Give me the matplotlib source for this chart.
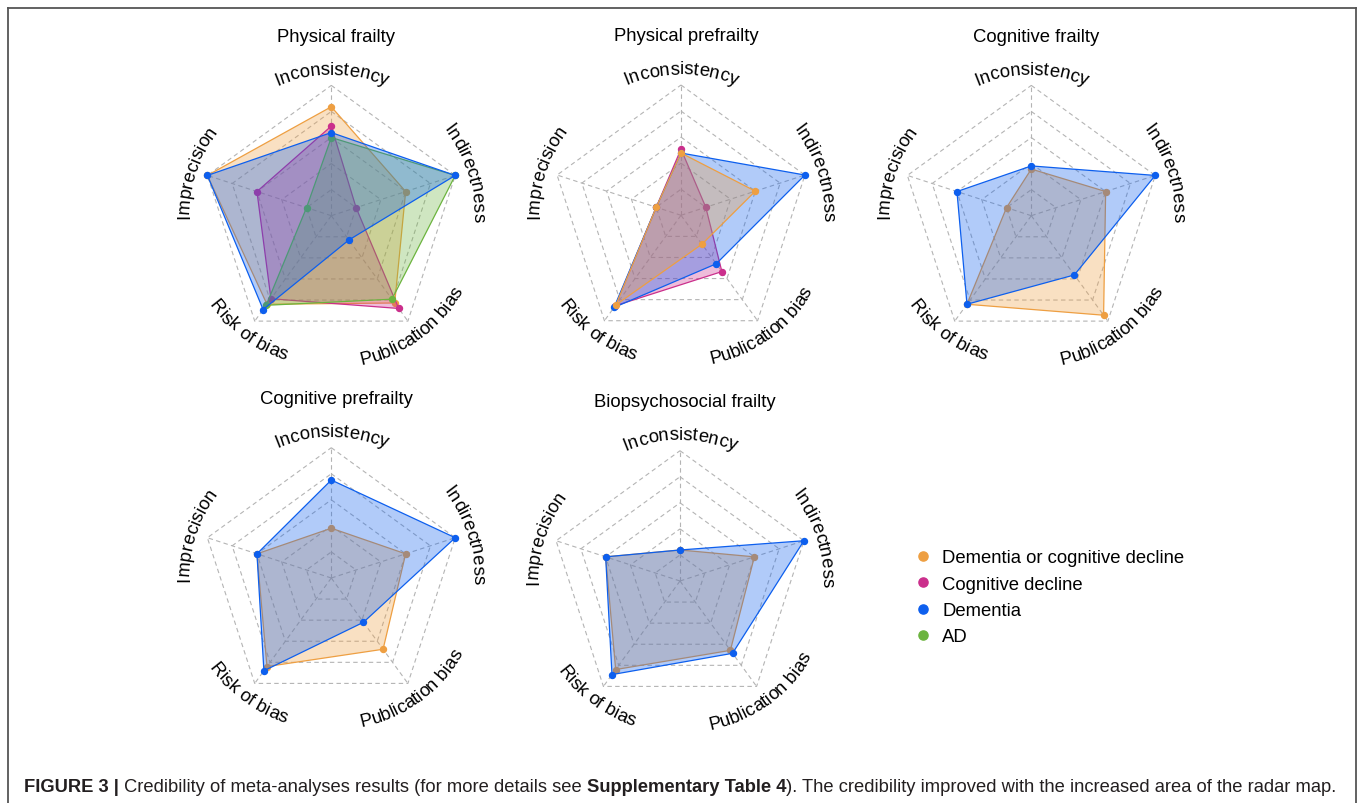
import numpy as np
import matplotlib
matplotlib.use("Agg")
import matplotlib.pyplot as plt
from matplotlib.font_manager import FontProperties

plt.rcParams['font.family'] = ['Liberation Sans', 'DejaVu Sans']

# ---------------------------------------------------------------- data
dimensions = ["Inconsistency", "Indirectness", "Publication bias",
              "Risk of bias", "Imprecision"]

outcomes = ["Dementia or cognitive decline", "Cognitive decline",
            "Dementia", "AD"]
outcome_colors = {"Dementia or cognitive decline": "#EE9F42",
                  "Cognitive decline": "#CB2F8C",
                  "Dementia": "#0D5FEE",
                  "AD": "#6CB43F"}

panel_titles = ["Physical frailty", "Physical prefrailty", "Cognitive frailty",
                "Cognitive prefrailty", "Biopsychosocial frailty"]

# credibility scores per dimension (same order as `dimensions`)
physical_frailty = {
    "Dementia or cognitive decline": [4.18, 3.0, 4.14, 4.2, 5.0],
    "Cognitive decline": [3.44, 1.0, 4.4, 3.94, 3.0],
    "AD": [3.0, 5.0, 3.96, 4.25, 1.0],
    "Dementia": [3.19, 5.0, 1.15, 4.45, 5.0],
}
physical_prefrailty = {
    "Cognitive decline": [2.54, 1.0, 2.67, 4.29, 1.0],
    "Dementia": [2.39, 5.0, 2.3, 4.37, 1.0],
    "Dementia or cognitive decline": [2.39, 3.0, 1.37, 4.25, 1.0],
}
cognitive_frailty = {
    "Dementia or cognitive decline": [1.79, 3.0, 4.72, 4.2, 1.0],
    "Dementia": [1.91, 5.0, 2.81, 4.2, 3.0],
}
cognitive_prefrailty = {
    "Dementia or cognitive decline": [1.91, 3.0, 3.38, 4.2, 3.0],
    "Dementia": [3.76, 5.0, 2.1, 4.4, 3.0],
}
biopsychosocial_frailty = {
    "Dementia or cognitive decline": [1.19, 3.0, 3.29, 4.2, 3.0],
    "Dementia": [1.19, 5.0, 3.43, 4.44, 3.0],
}
panel_data = [physical_frailty, physical_prefrailty, cognitive_frailty,
              cognitive_prefrailty, biopsychosocial_frailty]

grid_levels = [1, 2, 3, 4, 5]
r_max = 5

# ---------------------------------------------------------------- layout
W, H = 1358, 804
fig = plt.figure(figsize=(W / 100, H / 100), dpi=100)
renderer = fig.canvas.get_renderer()

# page overlay in pixel coordinates (frame, caption, legend)
page = fig.add_axes([0, 0, 1, 1], zorder=0)
page.set_xlim(0, W)
page.set_ylim(H, 0)
page.axis('off')
page.patch.set_visible(False)

R_PX = 130.3          # pixel radius of the outer ring
centers = [(331.3, 216.7), (681.0, 216.3), (1031.3, 216.7),
           (331.3, 579.0), (680.0, 582.0)]
LABEL_FS = 13.3
TITLE_FS = 13.3

angles = 2 * np.pi * np.arange(len(dimensions)) / len(dimensions)
closed = np.append(angles, angles[0])


def curved_label(ax, text, theta, r_px, flip):
    """Write `text` along a circular arc centred on direction `theta`."""
    prop = FontProperties(family=['Liberation Sans'], size=LABEL_FS)
    adv = [0.0]
    for i in range(1, len(text) + 1):
        adv.append(renderer.get_text_width_height_descent(text[:i], prop, ismath=False)[0])
    total = adv[-1]
    r_data = r_px / R_PX * r_max
    for i, ch in enumerate(text):
        if ch == ' ':
            continue
        s = (adv[i] + adv[i + 1]) / 2 - total / 2
        off = s / r_px
        if not flip:
            th = theta + off
            rot = -np.degrees(th)
        else:
            th = theta - off
            rot = 180 - np.degrees(th)
        ax.text(th, r_data, ch, fontproperties=prop, ha='center',
                va='baseline', rotation=rot, rotation_mode='anchor',
                color='black', clip_on=False)


for title, data, (cx, cy) in zip(panel_titles, panel_data, centers):
    rect = [(cx - R_PX) / W, (H - cy - R_PX) / H, 2 * R_PX / W, 2 * R_PX / H]
    ax = fig.add_axes(rect, projection='polar', zorder=2)
    ax.set_theta_offset(np.pi / 2)
    ax.set_theta_direction(-1)
    ax.set_ylim(0, r_max)
    ax.axis('off')

    # pentagonal dashed grid and spokes
    for lv in grid_levels:
        ax.plot(closed, [lv] * len(closed), color='#b4b4b4', lw=0.8,
                ls=(0, (4, 3)), clip_on=False, zorder=1)
    for a in angles:
        ax.plot([a, a], [0, r_max], color='#b4b4b4', lw=0.8,
                ls=(0, (4, 3)), clip_on=False, zorder=1)

    z = 2
    for name, vals in data.items():
        c = outcome_colors[name]
        v = np.append(vals, vals[0])
        ax.fill(closed, v, color=c, alpha=0.32, lw=0, zorder=z, clip_on=False)
        ax.plot(closed, v, color=c, lw=0.9, zorder=z + 0.1, clip_on=False)
        ax.plot(angles, vals, ls='', marker='o', ms=4.3, color=c,
                mec=c, zorder=z + 0.2, clip_on=False)
        z += 1

    for name, th in zip(dimensions, angles):
        flip = np.sin(np.pi / 2 - th) < -0.1
        curved_label(ax, name, th, 151.0 if flip else 142.0, flip)

    page.text(cx + 5, cy - 175.0, title, fontsize=TITLE_FS, ha='center',
              va='baseline', color='black')

# ---------------------------------------------------------------- legend
leg_x, leg_y0, leg_dy = 923, 557, 26.3
for i, name in enumerate(outcomes):
    y = leg_y0 + i * leg_dy
    page.plot([leg_x], [y], marker='o', ms=6.6, color=outcome_colors[name],
              ls='', clip_on=False)
    page.text(leg_x + 19, y, name, fontsize=13.3, ha='left', va='center_baseline',
              color='black')

# ---------------------------------------------------------------- frame
frame_kw = dict(color='#555555', lw=1.3, clip_on=False, solid_capstyle='projecting')
page.plot([8, 8], [H + 5, 9], **frame_kw)
page.plot([8, 1356], [9, 9], **frame_kw)
page.plot([1356, 1356], [9, H + 5], **frame_kw)

# ---------------------------------------------------------------- caption
pieces = [("FIGURE 3 |", 'bold'),
          (" Credibility of meta-analyses results (for more details see ", 'normal'),
          ("Supplementary Table 4", 'bold'),
          ("). The credibility improved with the increased area of the radar map.", 'normal')]
base_fs = 12.0
widths = []
for txt, wt in pieces:
    p = FontProperties(family=['Liberation Sans'], size=base_fs, weight=wt)
    widths.append(renderer.get_text_width_height_descent(txt, p, ismath=False)[0])
cap_fs = base_fs * (1340 - 24) / sum(widths)
x = 24.0
for txt, wt in pieces:
    p = FontProperties(family=['Liberation Sans'], size=cap_fs, weight=wt)
    page.text(x, 792.5, txt, fontproperties=p, ha='left', va='baseline',
              color='#231f20')
    x += renderer.get_text_width_height_descent(txt, p, ismath=False)[0]

fig.savefig("out.png", dpi=100)
